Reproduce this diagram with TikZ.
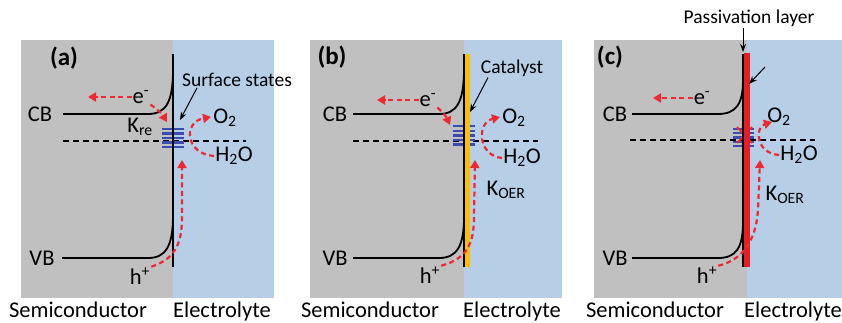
\documentclass[tikz,border=0pt]{standalone}
\usepackage{fontspec}
\setmainfont{Carlito}
\usepackage{xcolor}
\usetikzlibrary{arrows.meta}

\definecolor{semigray}{RGB}{192,192,192}
\definecolor{elecblue}{RGB}{182,207,230}
\definecolor{carrierred}{RGB}{240,40,50}
\definecolor{statesblue}{RGB}{58,76,178}
\definecolor{catalystorange}{RGB}{255,190,0}
\definecolor{passred}{RGB}{228,30,36}

\begin{document}
\begin{tikzpicture}[
    x=1pt, y=-1pt,
    band/.style={line width=1.8pt, black},
    fermi/.style={line width=1.6pt, dash pattern=on 6pt off 4pt},
    carrier/.style={carrierred, line width=2.2pt, dash pattern=on 5pt off 3.5pt, -{Triangle[length=8pt, width=9pt]}},
    pointer/.style={-{Stealth[length=8pt, width=6pt]}, line width=1pt},
    states/.style={line width=2.6pt, statesblue},
    lbl/.style={font=\fontsize{22.5}{26}\selectfont, inner sep=1pt},
    small/.style={font=\fontsize{19.5}{23}\selectfont, inner sep=1pt},
    tag/.style={font=\fontsize{25}{29}\selectfont\bfseries, inner sep=1pt},
    bottom/.style={lbl, anchor=base, inner sep=0pt},
]
\useasboundingbox (0,0) rectangle (842,323);

% Panel (a): surface states
\begin{scope}[xshift=173pt]
\fill[semigray] (-152,40) rectangle (0,298);
\fill[elecblue] (0,40) rectangle (101,298);
\draw[fermi] (-110,141) -- (73,141);
\foreach \y in {129,133.5,138,142.5,147} \draw[states] (-11,\y) -- (11,\y);
\draw[band] (-110,114) -- (-25,114) .. controls (-7,114) and (0,102) .. (0,70);
\draw[band] (-111,258) -- (-25,258) .. controls (-7,258) and (0,246) .. (0,215);
\draw[band] (0,54) -- (0,267);

\node[tag] (tagA) at (-109,58) {(a)};
\node[lbl] (cbA) at (-133,114) {CB};
\node[lbl] (vbA) at (-131,258) {VB};
\node[lbl] (elA) at (-32,97) {e\textsuperscript{-}};
\node[lbl] (kA) at (-33,127) {K\textsubscript{re}};
\node[lbl] (hA) at (-33,276) {h\textsuperscript{+}};
\node[small] (ssA) at (64,80) {Surface states};
\node[lbl] (o2A) at (52,118) {O\textsubscript{2}};
\node[lbl] (h2oA) at (61,156) {H\textsubscript{2}O};
\node[bottom] (scA) at (-95,317) {Semiconductor};
\node[bottom] (elyA) at (49,317) {Electrolyte};
\coordinate (ssA-end) at (7,120);

\draw[carrier] (elA.west) -- (-85,97);
\draw[carrier] (elA.south east) to[bend left=12] (-6,122);
\draw[carrier] (hA.north east) .. controls (5,258) and (9,240) .. (9,215) -- (9,160);
\draw[carrier] (h2oA.west) .. controls (12,154) and (10,122) .. (38,117);
\draw[pointer] ([xshift=-40pt]ssA.south) -- (ssA-end);
\end{scope}

% Panel (b): catalyst
\begin{scope}[xshift=464pt]
\fill[semigray] (-154,40) rectangle (0,298);
\fill[elecblue] (0,40) rectangle (98,298);
\draw[fermi] (-111,141) -- (74,141);
\foreach \y in {126,131,135.5,140,144.5} \draw[states] (-11,\y) -- (11,\y);
\draw[band] (-111,114) -- (-25,114) .. controls (-7,114) and (0,102) .. (0,68);
\draw[band] (-111,258) -- (-25,258) .. controls (-7,258) and (0,246) .. (0,217);
\fill[catalystorange] (1,54) rectangle (6,267);
\draw[band] (0,54) -- (0,267);

\node[tag] (tagB) at (-132,57) {(b)};
\node[lbl] (cbB) at (-129,114) {CB};
\node[lbl] (vbB) at (-129,258) {VB};
\node[lbl] (elB) at (-36,100) {e\textsuperscript{-}};
\node[lbl] (hB) at (-34,275) {h\textsuperscript{+}};
\node[small] (catB) at (48,68) {Catalyst};
\node[lbl] (o2B) at (50,118) {O\textsubscript{2}};
\node[lbl] (h2oB) at (58,158) {H\textsubscript{2}O};
\node[lbl] (kB) at (42,190) {K\textsubscript{OER}};
\node[bottom] (scB) at (-94,317) {Semiconductor};
\node[bottom] (elyB) at (48,317) {Electrolyte};
\coordinate (catB-end) at (6,112);

\draw[carrier] (elB.west) -- (-87,100);
\draw[carrier] (elB.south east) to[bend left=12] (-14,125);
\draw[carrier] (hB.north east) .. controls (6,258) and (10,240) .. (10,215) -- (11,160);
\draw[carrier] (h2oB.west) .. controls (14,156) and (12,123) .. (36,117);
\draw[pointer] ([xshift=-24pt]catB.south) -- (catB-end);
\end{scope}

% Panel (c): passivation layer
\begin{scope}[xshift=743pt]
\fill[semigray] (-149,40) rectangle (4,298);
\fill[elecblue] (4,40) rectangle (100,298);
\draw[fermi] (-113,140) -- (72,140);
\foreach \y in {129,133,137.5,142,146} \draw[states] (-10,\y) -- (11,\y);
\draw[carrierred, line width=1.8pt] (-6,127) -- (9,143) (-6,143) -- (9,127);
\draw[band] (-111,114) -- (-25,114) .. controls (-7,114) and (0,104) .. (0,80);
\draw[band] (-111,258) -- (-25,258) .. controls (-7,258) and (0,248) .. (0,222);
\fill[passred] (1,53) rectangle (7,267);
\draw[band] (0,54) -- (0,267);

\node[tag] (tagC) at (-133,57) {(c)};
\node[lbl] (cbC) at (-128,114) {CB};
\node[lbl] (vbC) at (-128,258) {VB};
\node[lbl] (elC) at (-41,98) {e\textsuperscript{-}};
\node[lbl] (hC) at (-36,275) {h\textsuperscript{+}};
\node[small] (pasC) at (6,18) {Passivation layer};
\node[lbl] (o2C) at (36,117) {O\textsubscript{2}};
\node[lbl] (h2oC) at (56,155) {H\textsubscript{2}O};
\node[lbl] (kC) at (42,195) {K\textsubscript{OER}};
\node[bottom] (scC) at (-88,317) {Semiconductor};
\node[bottom] (elyC) at (50,317) {Electrolyte};
\coordinate (barC) at (0,52);
\coordinate (tailC) at (22,67);
\coordinate (headC) at (6,84);

\draw[carrier] (elC.west) -- (-90,98);
\draw[carrier] (hC.north east) .. controls (0,260) and (13,240) .. (15,210) -- (17,160);
\draw[carrier] (h2oC.west) .. controls (12,153) and (12,127) .. (29,122);
\draw[pointer] (pasC.south -| barC) -- (barC);
\draw[pointer] (tailC) -- (headC);
\end{scope}

\end{tikzpicture}
\end{document}
